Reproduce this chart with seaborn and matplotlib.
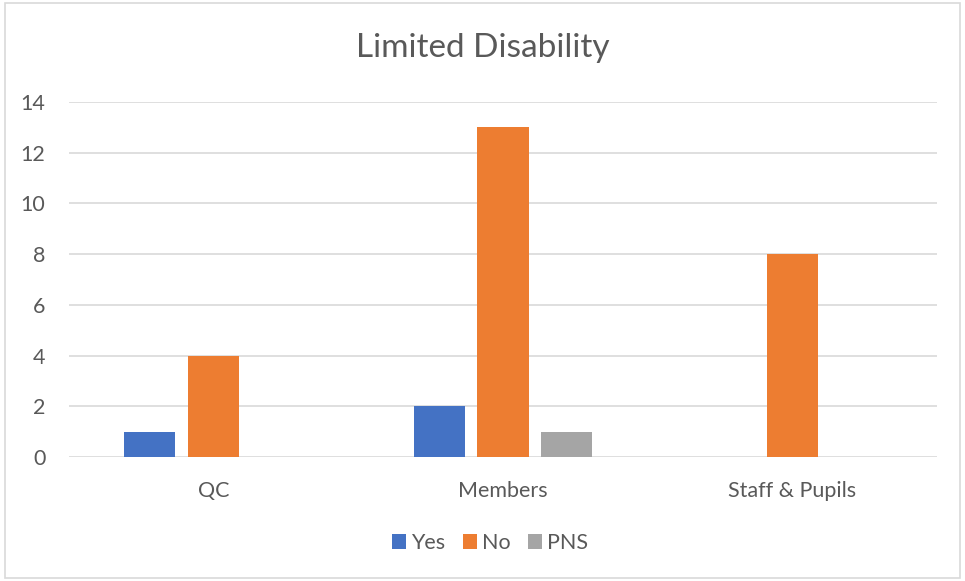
import pandas as pd
import matplotlib
matplotlib.use("Agg")
import matplotlib.pyplot as plt
import seaborn as sns
from matplotlib.patches import Rectangle

categories = ["QC", "Members", "Staff & Pupils"]
series = ["Yes", "No", "PNS"]
yes_vals = [1, 2, 0]
no_vals = [4, 13, 8]
pns_vals = [0, 1, 0]
colors = ["#4472C4", "#ED7D31", "#A5A5A5"]

df = pd.DataFrame({
    "category": categories * 3,
    "answer": ["Yes"] * 3 + ["No"] * 3 + ["PNS"] * 3,
    "count": yes_vals + no_vals + pns_vals,
})

sns.set_theme(style="white")
plt.rcParams["font.family"] = ["Lato", "DejaVu Sans"]
text_col = "#595959"

fig = plt.figure(figsize=(9.65, 5.81), dpi=100)
ax = fig.add_axes([0.0715, 0.2134, 0.8995, 0.611])

sns.barplot(data=df, x="category", y="count", hue="answer", hue_order=series,
            palette=colors, width=0.662, gap=0.2, saturation=1, ax=ax,
            edgecolor="none", linewidth=0)

ax.set_ylim(0, 14)
ax.set_yticks(range(0, 15, 2))
ax.grid(axis="y", color="#D9D9D9", linewidth=1.2)
ax.set_axisbelow(True)
for s in ax.spines.values():
    s.set_visible(False)
ax.tick_params(axis="both", length=0, labelsize=15.5, labelcolor=text_col)
ax.tick_params(axis="y", pad=17)
ax.tick_params(axis="x", pad=17)
ax.set_xlabel("")
ax.set_ylabel("")

fig.text(0.5, 0.917, "Limited Disability", ha="center", va="center",
         fontsize=24, color=text_col)

handles, labels = ax.get_legend_handles_labels()
ax.legend_.remove()
fig.legend(handles, labels, loc="center", bbox_to_anchor=(0.508, 0.065), ncol=3,
           frameon=False, fontsize=15.5, labelcolor=text_col, handlelength=0.65,
           handleheight=0.65, handletextpad=0.25, columnspacing=0.8)

fig.patches.append(Rectangle((0.005, 0.005), 0.99, 0.99, transform=fig.transFigure,
                             fill=False, edgecolor="#D9D9D9", linewidth=1.2))

fig.savefig("out.png", dpi=100)
